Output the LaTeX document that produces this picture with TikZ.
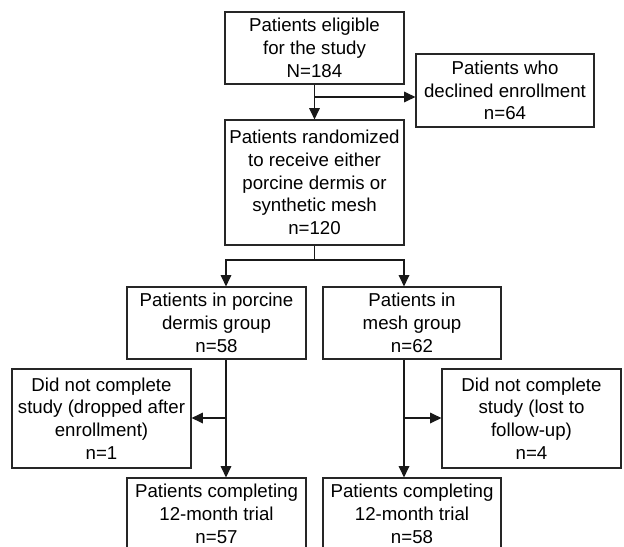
\documentclass[tikz,border=0pt]{standalone}
\usepackage{fontspec}
\setmainfont{Liberation Sans}
\usetikzlibrary{arrows.meta}
\begin{document}
\begin{tikzpicture}[x=0.75pt,y=-0.75pt,
  box/.style={draw=black!85, line width=0.9pt, align=center, inner sep=0pt,
    font=\fontsize{14}{17.1}\selectfont, minimum width=134.25pt},
  arr/.style={-{Triangle[length=8.5pt,width=8pt]}, line width=0.9pt, draw=black!90},
  ln/.style={line width=0.9pt, draw=black!90}]
\useasboundingbox (0,0) rectangle (624,546);
\fill[white] (0,0) rectangle (624,546);
\clip (0,0) rectangle (624,546);

\node[box, minimum height=54pt] (elig) at (314.5,48) {Patients eligible\\for the study\\N=184};
\node[box, minimum height=54.75pt, minimum width=133.5pt] (decl) at (505,90.5) {Patients who\\declined enrollment\\n=64};
\node[box, minimum height=93.75pt] (rand) at (314.5,182.5) {Patients randomized\\to receive either\\porcine dermis or\\synthetic mesh\\n=120};
\node[box, minimum height=54pt] (porc) at (216.5,323) {Patients in porcine\\dermis group\\n=58};
\node[box, minimum height=54pt, minimum width=133.5pt] (mesh) at (412,323) {Patients in\\mesh group\\n=62};
\node[box, minimum height=74.25pt] (drop) at (101.5,418.5) {Did not complete\\study (dropped after\\enrollment)\\n=1};
\node[box, minimum height=74.25pt] (lost) at (531.5,418.5) {Did not complete\\study (lost to\\follow-up)\\n=4};
\node[box, minimum height=54pt] (comp1) at (216.5,514) {Patients completing\\12-month trial\\n=57};
\node[box, minimum height=54pt, minimum width=133.5pt] (comp2) at (412,514) {Patients completing\\12-month trial\\n=58};

\coordinate (j1) at (314.5,97);
\coordinate (j2) at (314.5,260);
\coordinate (xl) at (226,0);
\coordinate (xr) at (404,0);
\coordinate (jl) at (226,418);
\coordinate (jr) at (404,418);

\draw[arr] (elig.south) -- (rand.north);
\draw[arr] (j1) -- (j1 -| decl.west);
\draw[ln] (rand.south) -- (j2);
\draw[arr] (j2) -| (porc.north -| xl);
\draw[arr] (j2) -| (mesh.north -| xr);
\draw[arr] (porc.south -| xl) -- (comp1.north -| xl);
\draw[arr] (mesh.south -| xr) -- (comp2.north -| xr);
\draw[arr] (jl) -- (jl -| drop.east);
\draw[arr] (jr) -- (jr -| lost.west);
\end{tikzpicture}
\end{document}
